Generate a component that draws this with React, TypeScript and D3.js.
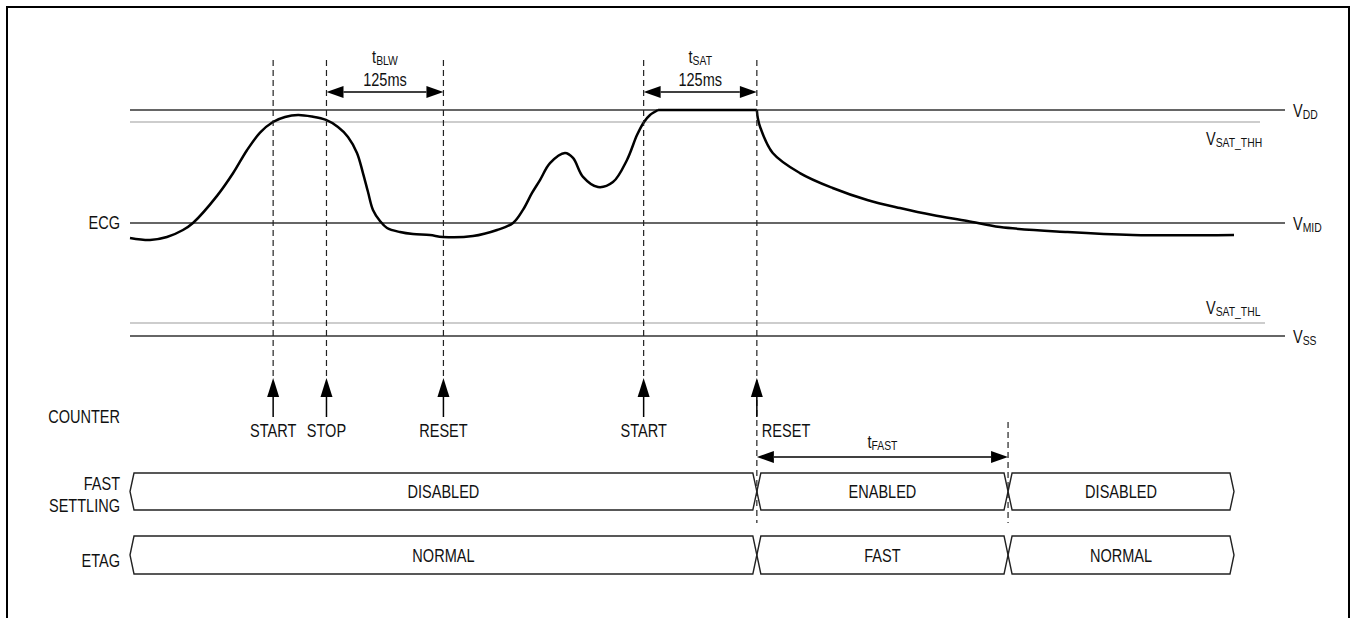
import React from "react";
import * as d3 from "d3";

// ---------- data ----------
const ecgTime = [0, 21.4, 39.5, 56.6, 67.3, 93, 110.1, 125, 139, 152.8, 165.7, 179.6, 194.5, 209.5, 222.3, 233, 242.6, 249, 254.4, 259.7, 267.2, 274.7, 288.6, 302.5, 320.6, 334.5, 366.6, 392.3, 409.4, 420, 429.7, 438.2, 448.9, 464.9, 473.5, 484.2, 500.2, 516.2, 531.2, 541.9, 549.4, 555.8, 564.4];
const ecgLevel = [0.434, 0.425, 0.438, 0.469, 0.5, 0.62, 0.72, 0.822, 0.9, 0.947, 0.969, 0.978, 0.971, 0.956, 0.925, 0.881, 0.81, 0.721, 0.637, 0.558, 0.509, 0.478, 0.46, 0.451, 0.447, 0.438, 0.442, 0.469, 0.5, 0.558, 0.633, 0.69, 0.765, 0.81, 0.788, 0.704, 0.659, 0.681, 0.779, 0.889, 0.947, 0.978, 1.0];
const plateauTime = [564.4, 670];
const plateauLevel = [1.0, 1.0];
const decayTime = [670, 671, 673.5, 687, 716, 751, 788, 823, 858, 895, 930, 1002, 1072, 1180];
const decayLevel = [1.0, 0.965, 0.925, 0.81, 0.721, 0.655, 0.602, 0.566, 0.535, 0.509, 0.482, 0.46, 0.447, 0.447];

const levelMain = ["DD", "SAT_THH", "MID", "SAT_THL", "SS"];
const levelValue = [1.0, 0.947, 0.5, 0.058, 0.0];
const levelIsThreshold = [false, true, false, true, false];

const counterEvents = ["START", "STOP", "RESET", "START", "RESET"];
const counterTimes = [153, 210, 335, 549, 670];

const busEdges = [0, 670, 938.5, 1180];
const fastSettlingStates = ["DISABLED", "ENABLED", "DISABLED"];
const etagStates = ["NORMAL", "FAST", "NORMAL"];

const intervalNames = ["BLW", "SAT", "FAST"];
const intervalStart = [210, 549, 670];
const intervalEnd = [335, 670, 938.5];
const intervalValues = ["125ms", "125ms", ""];

const rowLabels = ["ECG", "COUNTER", "FAST SETTLING", "ETAG"];

// ---------- layout ----------
const W = 1351;
const H = 618;
const FONT = "'Liberation Sans', Arial, sans-serif";
const FS = 17.5;
const SUB = 12.5;
const SX = 0.83;

const x = d3.scaleLinear().domain([0, 1180]).range([130, 1234]);
const y = d3.scaleLinear().domain([0, 1]).range([336, 110]);

const lineLeft = 130;
const lineRight = 1285;
const thhRight = 1260;
const thlRight = 1265;

const dashTop = 60;
const arrowTipY = 378;
const arrowBaseY = 397;
const arrowShaftEnd = 417;
const counterTextY = 437;

const fsTop = 473, fsBot = 510;
const etTop = 536, etBot = 574;
const dashBottom = 523;
const tFastDashTop = 422;

function busPath(x0: number, x1: number, top: number, bot: number, d = 4) {
  const mid = (top + bot) / 2;
  return `M${x0},${mid}L${x0 + d},${top}L${x1 - d},${top}L${x1},${mid}L${x1 - d},${bot}L${x0 + d},${bot}Z`;
}

function HArrow({ x0, x1, yy }: { x0: number; x1: number; yy: number }) {
  const L = 17, h = 6;
  return (
    <g>
      <line x1={x0 + L} x2={x1 - L} y1={yy} y2={yy} stroke="#000" strokeWidth={1.5} />
      <path d={`M${x0},${yy}L${x0 + L},${yy - h}L${x0 + L},${yy + h}Z`} fill="#000" />
      <path d={`M${x1},${yy}L${x1 - L},${yy - h}L${x1 - L},${yy + h}Z`} fill="#000" />
    </g>
  );
}

function Txt({ x: xx, y: yy, anchor = "start", children }: any) {
  return (
    <g transform={`translate(${xx},${yy}) scale(${SX},1)`}>
      <text x={0} y={0} textAnchor={anchor} fontFamily={FONT} fontSize={FS} fill="#111">
        {children}
      </text>
    </g>
  );
}

function SubText({ x: xx, y: yy, main, sub, anchor = "start" }: any) {
  return (
    <Txt x={xx} y={yy} anchor={anchor}>
      {main}
      <tspan fontSize={SUB} dy={2}>{sub}</tspan>
    </Txt>
  );
}

export default function App() {
  const line = d3.line().curve(d3.curveCatmullRom.alpha(0.5));
  const toPts = (ts: number[], vs: number[]) => ts.map((t, i) => [x(t), y(vs[i])] as [number, number]);
  const pathA = line(toPts(ecgTime, ecgLevel)) || "";
  const pathP = d3.line()(toPts(plateauTime, plateauLevel)) || "";
  const pathB = line(toPts(decayTime, decayLevel)) || "";

  const rightLabelX = 1293;
  const thLabelX = 1206;

  return (
    <svg width={W} height={H} style={{ position: "absolute", left: 0, top: 0, display: "block", background: "#fff" }}>
      <rect x={7} y={7} width={1342} height={700} fill="none" stroke="#000" strokeWidth={2} />

      {/* reference levels */}
      {levelMain.map((n, i) => {
        const yy = y(levelValue[i]);
        const thr = levelIsThreshold[i];
        const right = thr ? (i === 1 ? thhRight : thlRight) : lineRight;
        return (
          <g key={n}>
            <line x1={lineLeft} x2={right} y1={yy} y2={yy} stroke={thr ? "#bdbdbd" : "#333"} strokeWidth={1.5} />
            {thr ? (
              <SubText x={thLabelX} y={i === 1 ? yy + 23 : yy - 9} main="V" sub={n} />
            ) : (
              <SubText x={rightLabelX} y={yy + 7} main="V" sub={n} />
            )}
          </g>
        );
      })}

      {/* ECG */}
      <g fill="none" stroke="#000" strokeWidth={2.5} strokeLinejoin="round">
        <path d={pathA} />
        <path d={pathP} />
        <path d={pathB} />
      </g>

      {/* counter dashed lines & arrows */}
      {counterTimes.map((t, i) => {
        const xx = x(t);
        const last = i === counterTimes.length - 1;
        return (
          <g key={i}>
            <line x1={xx} x2={xx} y1={dashTop} y2={last ? dashBottom : arrowTipY} stroke="#222" strokeWidth={1.2} strokeDasharray="6,4" />
            <line x1={xx} x2={xx} y1={arrowBaseY} y2={arrowShaftEnd} stroke="#000" strokeWidth={1.5} />
            <path d={`M${xx},${arrowTipY}L${xx - 6},${arrowBaseY}L${xx + 6},${arrowBaseY}Z`} fill="#000" />
            <Txt x={last ? xx + 5 : xx} y={counterTextY} anchor={last ? "start" : "middle"}>
              {counterEvents[i]}
            </Txt>
          </g>
        );
      })}
      <line x1={x(intervalEnd[2])} x2={x(intervalEnd[2])} y1={tFastDashTop} y2={dashBottom} stroke="#222" strokeWidth={1.2} strokeDasharray="6,4" />

      {/* interval dimension arrows */}
      {intervalNames.map((n, i) => {
        const x0 = x(intervalStart[i]);
        const x1 = x(intervalEnd[i]);
        const yy = i === 2 ? 457 : 92;
        const cx = (x0 + x1) / 2;
        return (
          <g key={n}>
            <HArrow x0={x0} x1={x1} yy={yy} />
            <SubText x={cx} y={i === 2 ? yy - 9 : yy - 29} main="t" sub={n} anchor="middle" />
            {intervalValues[i] && (
              <Txt x={cx} y={yy - 6} anchor="middle">
                {intervalValues[i]}
              </Txt>
            )}
          </g>
        );
      })}

      {/* buses */}
      {[fastSettlingStates, etagStates].map((states, r) => {
        const top = r === 0 ? fsTop : etTop;
        const bot = r === 0 ? fsBot : etBot;
        return (
          <g key={r}>
            {states.map((s, i) => {
              const x0 = x(busEdges[i]);
              const x1 = x(busEdges[i + 1]);
              return (
                <g key={i}>
                  <path d={busPath(x0, x1, top, bot)} fill="none" stroke="#222" strokeWidth={1.4} />
                  <Txt x={(x0 + x1) / 2} y={(top + bot) / 2 + 6.5} anchor="middle">
                    {s}
                  </Txt>
                </g>
              );
            })}
          </g>
        );
      })}

      {/* row labels */}
      <Txt x={120} y={229} anchor="end">{rowLabels[0]}</Txt>
      <Txt x={120} y={423} anchor="end">{rowLabels[1]}</Txt>
      <Txt x={120} y={490} anchor="end">{rowLabels[2].split(" ")[0]}</Txt>
      <Txt x={120} y={512} anchor="end">{rowLabels[2].split(" ")[1]}</Txt>
      <Txt x={120} y={567} anchor="end">{rowLabels[3]}</Txt>
    </svg>
  );
}
